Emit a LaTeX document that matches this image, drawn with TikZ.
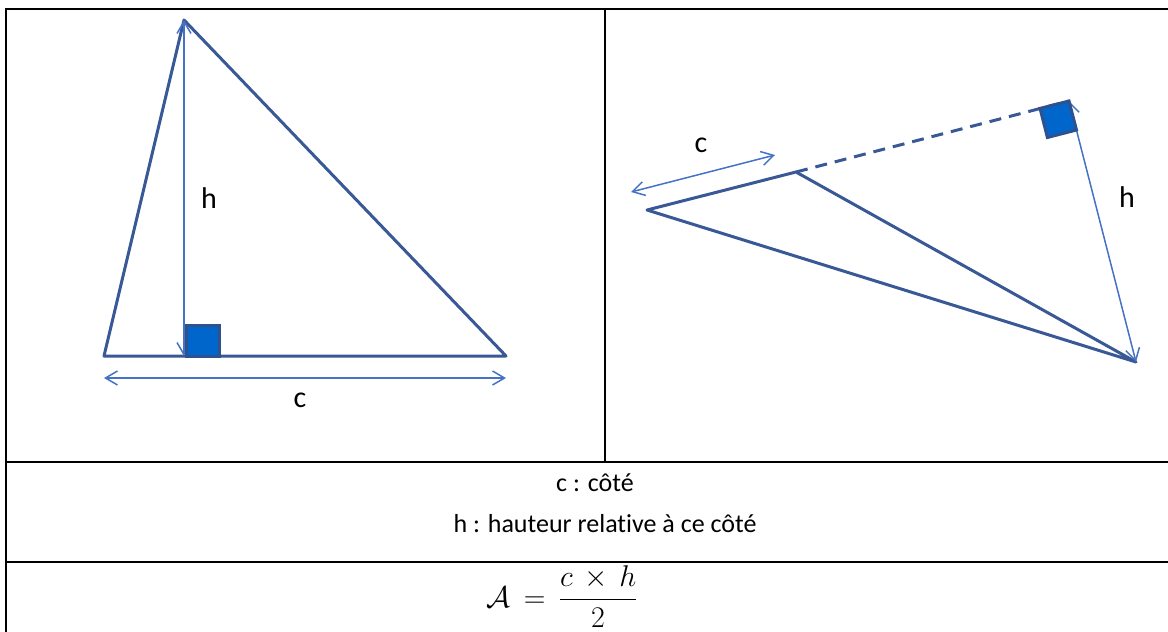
\RequirePackage{fix-cm}
\documentclass[tikz,border=0pt]{standalone}
\usepackage{amsmath}
\usepackage{fontspec}
\setmainfont{Carlito}[Ligatures=NoCommon]
\usetikzlibrary{arrows.meta}
\definecolor{triblue}{RGB}{56,88,150}
\definecolor{lightarrow}{RGB}{68,114,196}
\definecolor{sqfill}{RGB}{0,102,204}
\definecolor{sqedge}{RGB}{47,82,143}
\tikzset{
  tri/.style={draw=triblue, line width=3pt, line join=round},
  dimarrow/.style={draw=lightarrow, line width=1.5pt, {Straight Barb[length=12pt,width=14pt]}-{Straight Barb[length=12pt,width=14pt]}},
  rightsq/.style={fill=sqfill, draw=sqedge, line width=3pt, line join=miter},
  grid/.style={draw=black, line width=2.2pt},
  lbl/.style={font=\fontsize{30}{36}\selectfont, inner sep=0pt},
  txt/.style={font=\fontsize{26}{32}\selectfont, inner sep=0pt},
  mathtxt/.style={font=\fontsize{30}{36}\selectfont, inner sep=0pt},
}
\begin{document}
\begin{tikzpicture}[x=1pt,y=-1pt]
\useasboundingbox (0,0) rectangle (1168,632);
% table grid
\coordinate (tl) at (6,9);
\coordinate (tr) at (1168,9);
\coordinate (bl) at (6,632);
\coordinate (m1l) at (6,462);
\coordinate (m1r) at (1168,462);
\coordinate (m2l) at (6,562);
\coordinate (m2r) at (1168,562);
\coordinate (vt) at (605,9);
\coordinate (vb) at (605,462);
\draw[grid] (bl) -- (tl) -- (tr);
\draw[grid] (m1l) -- (m1r);
\draw[grid] (m2l) -- (m2r);
\draw[grid] (vt) -- (vb);

% left triangle
\coordinate (A1) at (104,356);
\coordinate (B1) at (184,20);
\coordinate (C1) at (506,356);
\coordinate (H1) at (184,356);
\draw[tri] (A1) -- (B1) -- (C1) -- cycle;
\draw[dimarrow] (B1) -- (H1);
\coordinate (ca1) at (104,378);
\coordinate (ca2) at (506,378);
\draw[dimarrow] (ca1) -- (ca2);
\coordinate (s1a) at (186,325);
\coordinate (s1b) at (219,356);
\draw[rightsq] (s1a) rectangle (s1b);
\node[lbl] (hL) at (209,198) {h};
\node[lbl] (cL) at (300,400) {c};

% right triangle
\coordinate (A2) at (647,210);
\coordinate (B2) at (796,172);
\coordinate (C2) at (1136,362);
\coordinate (F2) at (1069,101);
\draw[tri] (A2) -- (B2) -- (C2) -- cycle;
\draw[tri, dash pattern=on 12pt off 8pt, line cap=butt] (B2) -- (F2);
\draw[dimarrow] (F2) -- (C2);
\coordinate (ca3) at (631,192);
\coordinate (ca4) at (775,155);
\draw[dimarrow] (ca3) -- (ca4);
\coordinate (q1) at (1069,101);
\coordinate (q2) at (1040,108.4);
\coordinate (q3) at (1047.4,137.5);
\coordinate (q4) at (1076.5,130);
\draw[rightsq] (q1) -- (q2) -- (q3) -- (q4) -- cycle;
\node[lbl] (cR) at (701,145) {c};
\node[lbl] (hR) at (1127,197) {h};

% legend
\node[txt] (leg1) at (595,483) {c : côté};
\node[txt] (leg2) at (605,524) {h : hauteur relative à ce côté};
\node[mathtxt] (formula) at (562,597) {$\mathcal{A}\,=\,\dfrac{c\,\times\,h}{2}$};
\end{tikzpicture}
\end{document}
